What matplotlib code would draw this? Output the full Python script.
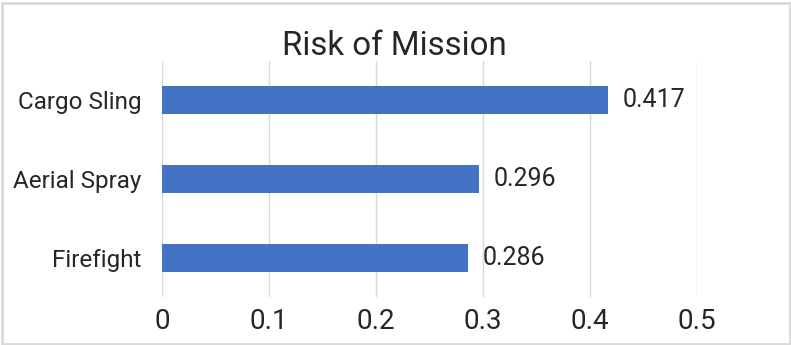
import matplotlib.pyplot as plt
from matplotlib.patches import Rectangle

plt.rcParams['font.family'] = ['Roboto', 'DejaVu Sans']

categories = ['Firefight', 'Aerial Spray', 'Cargo Sling']
risk = [0.286, 0.296, 0.417]
xticks = [0, 0.1, 0.2, 0.3, 0.4, 0.5]
xtick_labels = ['0', '0.1', '0.2', '0.3', '0.4', '0.5']

W, H = 791, 345
fig = plt.figure(figsize=(W/100, H/100), dpi=100)
ax = fig.add_axes([162/W, 1 - 297/H, (697-162)/W, (297-61)/H])

ax.barh(range(len(categories)), risk, height=0.36, color='#4472C4', zorder=3)
for i, v in enumerate(risk):
    ax.annotate(str(v), (v, i), xytext=(10.5, 0), textcoords='offset points',
                va='center', ha='left', fontsize=18, color='#262626')

ax.set_xlim(0, 0.5)
ax.set_ylim(-0.5, len(categories) - 0.5)
ax.set_xticks(xticks)
ax.set_xticklabels(xtick_labels, fontsize=20, color='#262626')
ax.set_yticks(range(len(categories)))
ax.set_yticklabels(categories, fontsize=17.5, color='#262626')
ax.tick_params(axis='both', length=0)
ax.tick_params(axis='y', pad=15)
ax.tick_params(axis='x', pad=8)
ax.grid(axis='x', color='#D9D9D9', linewidth=1, zorder=0)
for s in ax.spines.values():
    s.set_visible(False)

fig.text(394.5/W, 1 - 55/H, 'Risk of Mission', ha='center', va='baseline',
         fontsize=23.8, color='#262626')

border = Rectangle((1.5/W, 1.5/H), (W-3)/W, (H-4)/H, transform=fig.transFigure,
                   fill=False, edgecolor='#D9D9D9', linewidth=2)
fig.patches.append(border)

fig.savefig('out.png', dpi=100)
